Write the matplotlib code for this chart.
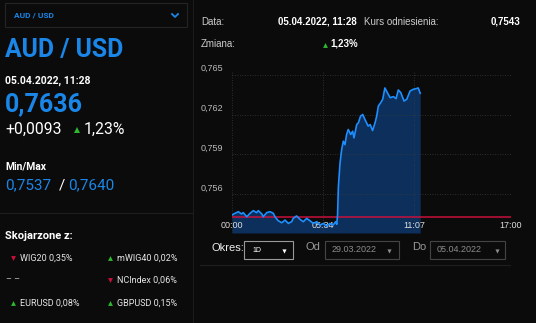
import matplotlib.pyplot as plt
from matplotlib.patches import Rectangle

# intraday AUD/USD quotes, minutes after midnight
minutes = [0, 11, 23, 35, 41, 54, 66, 78, 90, 96, 109, 114, 127, 139, 151, 157,
           169, 182, 194, 206, 218, 224, 236, 249, 261, 273, 285, 297, 310, 322,
           334, 346, 358, 370, 379, 383, 386, 389, 395, 401, 407, 413, 419, 425,
           434, 441, 446, 456, 462, 470, 478, 486, 492, 498, 505, 514, 523, 529,
           535, 544, 551, 559, 568, 578, 590, 600, 608, 617, 629, 639, 651, 663,
           673, 681, 688]
prices = [0.75445, 0.75458, 0.75470, 0.75453, 0.75463, 0.75432, 0.75458, 0.75478,
          0.75463, 0.75478, 0.75453, 0.75432, 0.75463, 0.75470, 0.75458, 0.75432,
          0.75402, 0.75387, 0.75407, 0.75382, 0.75395, 0.75420, 0.75438, 0.75412,
          0.75395, 0.75420, 0.75402, 0.75382, 0.75395, 0.75370, 0.75382, 0.75362,
          0.75382, 0.75370, 0.75395, 0.75375, 0.75450, 0.75660, 0.75836, 0.75937,
          0.76000, 0.75974, 0.76050, 0.76088, 0.76050, 0.76075, 0.76025, 0.76125,
          0.76138, 0.76188, 0.76201, 0.76163, 0.76138, 0.76113, 0.76125, 0.76080,
          0.76138, 0.76188, 0.76264, 0.76290, 0.76315, 0.76400, 0.76365, 0.76327,
          0.76335, 0.76320, 0.76385, 0.76365, 0.76302, 0.76315, 0.76377, 0.76390,
          0.76395, 0.76400, 0.76360]
reference_rate = 0.7543
session_end = 1020

x_ticks = [0, 334, 667, 1020]
x_labels = ["00:00", "05:34", "11:07", "17:00"]
y_ticks = [0.756, 0.759, 0.762, 0.765]
y_labels = ["0,756", "0,759", "0,762", "0,765"]

related = [
    ("WIG20 0,35%", "down", 0, 0), ("mWIG40 0,02%", "up", 1, 0),
    ("NCIndex 0,06%", "down", 1, 1),
    ("EURUSD 0,08%", "up", 0, 2), ("GBPUSD 0,15%", "up", 1, 2),
]

BG = "#0b0b0b"
BLUE = "#1a86e8"
GREEN = "#2eb82e"
RED = "#c8103c"
W, H = 536, 323

fig = plt.figure(figsize=(W / 100, H / 100), dpi=100, facecolor=BG)

# overlay in pixel coordinates for the page furniture
ov = fig.add_axes([0, 0, 1, 1])
ov.set_xlim(0, W)
ov.set_ylim(H, 0)
ov.axis("off")
ov.set_facecolor(BG)

LEFT = ["Roboto", "DejaVu Sans"]
RIGHT = ["Liberation Sans", "DejaVu Sans"]


def txt(x, y, s, size, color="white", weight="normal", ha="left", family=LEFT):
    ov.text(x, y, s, fontsize=size, color=color, fontweight=weight, ha=ha,
            va="center", family=family)


def tri(x, y, up=True, size=4):
    ov.plot([x], [y], marker="^" if up else "v", color=GREEN if up else RED,
            markersize=size, markeredgewidth=0)


# left panel
ov.add_patch(Rectangle((5, 3), 182, 24, fill=False, edgecolor="#242424", lw=0.8))
txt(14, 15.5, "AUD / USD", 6, BLUE, "bold")
ov.plot([172, 175, 178], [14, 17, 14], color=BLUE, lw=1.3)
ov.plot([193, 193], [0, H], color="#1c1c1c", lw=0.8)

txt(5, 50, "AUD / USD", 17.8, BLUE, "bold")
txt(5, 81, "05.04.2022, 11:28", 7.5, "white", "bold")
txt(5, 104, "0,7636", 18, BLUE, "bold")
txt(5, 129, "+0,0093", 11.3)
tri(77, 130)
txt(84, 129, "1,23%", 11.3)

txt(5, 167, "Min/Max", 7.5, "white", "bold")
txt(5, 185, "0,7537", 11, BLUE)
txt(59, 185, "/", 11)
txt(68, 185, "0,7640", 11, BLUE)
ov.plot([0, 193], [213, 213], color="#1e1e1e", lw=0.8)

txt(5, 236, "Skojarzone z:", 8, "white", "bold")
row_y = [258, 280, 303]
col_x = [13, 110]
for label, direction, col, row in related:
    tri(col_x[col], row_y[row], direction == "up", 3.5)
    txt(col_x[col] + 7, row_y[row], label, 6.5, "#e6e6e6")
txt(6, 280, "– –", 6.5, "#bbbbbb")

# right panel header
txt(201, 22, "Data:", 7, "#cccccc", family=RIGHT)
txt(357, 22, "05.04.2022, 11:28", 7, "white", "bold", ha="right", family=RIGHT)
txt(364, 22, "Kurs odniesienia:", 7, "#cccccc", family=RIGHT)
txt(520, 22, "0,7543", 7, "white", "bold", ha="right", family=RIGHT)
txt(201, 44, "Zmiana:", 7, "#cccccc", family=RIGHT)
tri(325, 44.5, True, 3.5)
txt(330, 44, "1,23%", 7, "white", "bold", family=RIGHT)

# period controls
txt(211, 248, "Okres:", 8, "#eeeeee", family=RIGHT)
ov.add_patch(Rectangle((244, 241), 49, 18, fill=False, edgecolor="#9a9a9a", lw=0.8))
txt(252, 250, "1D", 5, "white", family=RIGHT)
ov.plot([284], [251], marker="v", color="white", markersize=3, markeredgewidth=0)
txt(306, 247, "Od", 8, "#999999", family=RIGHT)
ov.add_patch(Rectangle((325, 241), 74, 18, fill=False, edgecolor="#444444", lw=0.8))
txt(332, 249.5, "29.03.2022", 6.5, "#8c8c8c", family=RIGHT)
ov.plot([389], [251], marker="v", color="#8c8c8c", markersize=3, markeredgewidth=0)
txt(412, 247, "Do", 8, "#999999", family=RIGHT)
ov.add_patch(Rectangle((430, 241), 75, 18, fill=False, edgecolor="#444444", lw=0.8))
txt(437, 249.5, "05.04.2022", 6.5, "#8c8c8c", family=RIGHT)
ov.plot([497], [251], marker="v", color="#8c8c8c", markersize=3, markeredgewidth=0)
ov.plot([200, 510], [265, 265], color="#1e1e1e", lw=0.8)

# price chart
ax = fig.add_axes([232 / W, 1 - 233 / H, (511 - 232) / W, (233 - 72) / H])
ax.set_facecolor("none")
ax.set_xlim(0, session_end)
ax.set_ylim(0.7531, 0.7652)
for s in ax.spines.values():
    s.set_visible(False)

ax.fill_between(minutes, prices, 0.7531, color="#0d2f5c", lw=0, zorder=1)
ax.plot([0, session_end], [reference_rate, reference_rate], color=RED, lw=1.1, zorder=2)
ax.plot(minutes, prices, color="#1e8fff", lw=1.2, zorder=3)

ax.set_xticks(x_ticks)
ax.set_xticklabels(x_labels, fontsize=6.5, color="#dddddd", family=RIGHT)
ax.set_yticks(y_ticks)
ax.set_yticklabels([])
ax.tick_params(axis="x", length=0, pad=-8.5)
ax.tick_params(axis="y", length=0)
for lbl in ax.get_xticklabels():
    lbl.set_zorder(5)
ax.grid(True, color="#3a3a3a", lw=0.6, linestyle=(0, (1, 2)), zorder=0)

for v, lbl in zip(y_ticks, y_labels):
    ax.annotate(lbl, xy=(-0.112, v), xycoords=ax.get_yaxis_transform(),
                xytext=(0, 4.5), textcoords="offset points", va="center",
                ha="left", fontsize=6.5, color="#bbbbbb", family=RIGHT,
                annotation_clip=False)

fig.savefig("out.png", dpi=100, facecolor=BG)
